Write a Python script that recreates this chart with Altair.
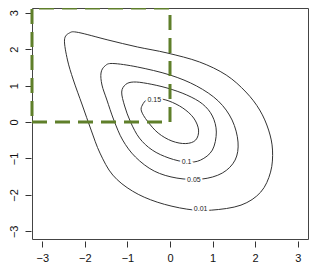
import altair as alt
import pandas as pd

# contour levels and traced contour points (data units)
lev_001_x = [-2.477, -2.361, -2.153, -1.458, -0.764, -0.069, 0.694, 1.319, 1.782, 2.106, 2.315, 2.407, 2.361, 2.130, 1.667, 0.972, 0.394, -0.301, -0.880, -1.343, -1.644, -1.852, -2.060, -2.269, -2.407]
lev_001_y = [2.253, 2.445, 2.459, 2.253, 2.060, 1.896, 1.648, 1.291, 0.824, 0.330, -0.220, -0.769, -1.374, -1.923, -2.280, -2.418, -2.390, -2.198, -1.896, -1.456, -0.852, -0.220, 0.467, 1.154, 1.703]

lev_005_x = [-1.620, -1.528, -1.343, -0.764, 0.000, 0.625, 1.134, 1.458, 1.597, 1.528, 1.227, 0.741, 0.162, -0.370, -0.810, -1.111, -1.319, -1.481, -1.597]
lev_005_y = [1.346, 1.538, 1.607, 1.511, 1.291, 0.989, 0.577, 0.055, -0.549, -1.044, -1.401, -1.566, -1.538, -1.346, -0.962, -0.495, 0.055, 0.604, 1.016]

lev_010_x = [-1.134, -1.042, -0.856, -0.532, -0.069, 0.394, 0.764, 0.995, 1.088, 0.995, 0.718, 0.394, -0.023, -0.417, -0.718, -0.926, -1.065]
lev_010_y = [0.824, 1.030, 1.099, 1.058, 0.934, 0.742, 0.495, 0.165, -0.275, -0.769, -1.044, -1.099, -0.989, -0.769, -0.440, 0.000, 0.440]

lev_015_x = [-0.648, -0.532, -0.301, -0.023, 0.301, 0.556, 0.671, 0.602, 0.370, 0.046, -0.278, -0.532, -0.671]
lev_015_y = [0.467, 0.618, 0.646, 0.577, 0.385, 0.110, -0.220, -0.495, -0.591, -0.522, -0.302, 0.027, 0.302]

label_text = ["0.15", "0.1", "0.05", "0.01"]
label_x = [-0.37, 0.39, 0.56, 0.72]
label_y = [0.60, -1.10, -1.59, -2.39]

# dashed region (quadrant x<=0, y>=0 up to plot edges)
box_x = [-3.24, 0.0, 0.0, -3.24, -3.24]
box_y = [0.0, 0.0, 3.13, 3.13, 0.0]

ticks = [-3, -2, -1, 0, 1, 2, 3]

rows = []
for name, xs_, ys_ in [("0.01", lev_001_x, lev_001_y), ("0.05", lev_005_x, lev_005_y),
                       ("0.1", lev_010_x, lev_010_y), ("0.15", lev_015_x, lev_015_y)]:
    for i, (a, b) in enumerate(zip(xs_, ys_)):
        rows.append({"level": name, "i": i, "x": a, "y": b})
cdf = pd.DataFrame(rows)
ldf = pd.DataFrame({"t": label_text, "x": label_x, "y": label_y})
bdf = pd.DataFrame({"x": box_x, "y": box_y, "i": list(range(len(box_x)))})

xs = alt.Scale(domain=[-3.24, 3.24], nice=False, zero=False)
ys = alt.Scale(domain=[-3.21, 3.13], nice=False, zero=False)
xax = alt.Axis(values=ticks, title=None, grid=False, domain=False, tickSize=6, offset=2,
               labelFontSize=11, labelPadding=5, format="d", tickColor="#333",
               labelColor="#111", labelFont="Liberation Sans", labelOverlap=False)
yax = alt.Axis(values=ticks, title=None, grid=False, domain=False, tickSize=6, offset=1,
               labelFontSize=11, labelPadding=6, format="d", tickColor="#333",
               labelColor="#111", labelFont="Liberation Sans", labelAngle=270,
               labelAlign="center", labelBaseline="bottom", labelOverlap=False)

X = alt.X("x:Q", scale=xs, axis=xax)
Y = alt.Y("y:Q", scale=ys, axis=yax)

contours = alt.Chart(cdf).mark_line(interpolate="cardinal-closed", color="#333", strokeWidth=1).encode(
    x=X, y=Y, detail="level:N", order="i:Q")
halo = alt.Chart(ldf).mark_text(fontSize=7, font="Liberation Sans", stroke="white", strokeWidth=4, color="white").encode(
    x=X, y=Y, text="t:N")
labels = alt.Chart(ldf).mark_text(fontSize=7, font="Liberation Sans", color="#222").encode(
    x=X, y=Y, text="t:N")
box = alt.Chart(bdf).mark_line(color="#5f7f2a", strokeWidth=3, strokeDash=[15, 8], clip=False).encode(
    x=X, y=Y, order="i:Q")

chart = alt.layer(contours, halo, labels, box).properties(
    width=276, height=231,
    autosize=alt.AutoSizeParams(type="none"),
    padding={"left": 24, "top": 0, "right": 1, "bottom": 24},
).configure_view(stroke="#444", strokeWidth=1).configure_axis(labelOverlap=False)

chart.save("out.html", embed_options={"renderer": "svg", "actions": False})
